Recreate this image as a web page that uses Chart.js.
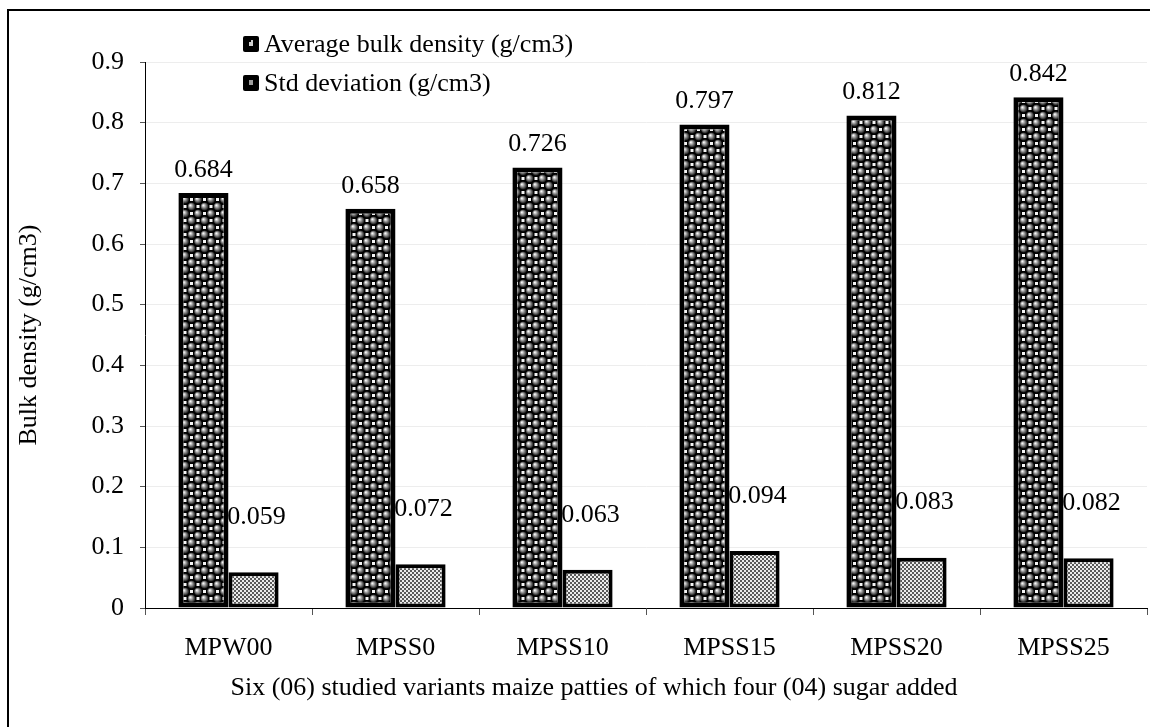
<!DOCTYPE html>
<html><head><meta charset="utf-8">
<script src="https://cdn.jsdelivr.net/npm/chart.js@4/dist/chart.umd.min.js"></script>
<style>html,body{margin:0;padding:0;background:#fff}#wrap{width:1150px;height:727px;position:relative}</style>
</head><body><div id="wrap"><canvas id="c" width="1150" height="727"></canvas></div>
<script>
// ---- data ----
const categories = ['MPW00', 'MPSS0', 'MPSS10', 'MPSS15', 'MPSS20', 'MPSS25'];
const avgDensity = [0.684, 0.658, 0.726, 0.797, 0.812, 0.842];
const stdDeviation = [0.059, 0.072, 0.063, 0.094, 0.083, 0.082];
const seriesNames = ['Average bulk density (g/cm3)', 'Std deviation (g/cm3)'];
const yTickValues = [0, 0.1, 0.2, 0.3, 0.4, 0.5, 0.6, 0.7, 0.8, 0.9];
const yTitle = 'Bulk density (g/cm3)';
const xTitle = 'Six (06) studied variants maize patties of which four (04) sugar added';

const FONT = '"Liberation Serif", "Times New Roman", serif';
const FS = 26;

// ---- patterns ----
function spherePattern() {
  const c = document.createElement('canvas');
  c.width = 13; c.height = 14;
  const g = c.getContext('2d');
  g.fillStyle = '#000'; g.fillRect(0, 0, 13, 14);
  const sphere = (x, y) => {
    const gr = g.createRadialGradient(x - 1.3, y - 1.3, 0.2, x, y, 4.2);
    gr.addColorStop(0, '#ffffff');
    gr.addColorStop(0.3, '#b8b8b8');
    gr.addColorStop(0.7, '#555555');
    gr.addColorStop(1, '#0a0a0a');
    g.fillStyle = gr;
    g.beginPath(); g.arc(x, y, 4.2, 0, Math.PI * 2); g.fill();
  };
  [[3, 3.5], [9.5, 10.5], [-3.5, 10.5], [16, 3.5], [3, 17.5], [9.5, -3.5], [-3.5, -3.5], [16, 17.5]].forEach(p => sphere(p[0], p[1]));
  g.fillStyle = '#f4f4f4';
  g.fillRect(8, 2, 3, 3);
  g.fillRect(1.5, 9, 3, 3);
  return g.createPattern(c, 'repeat');
}
function checkPattern() {
  const c = document.createElement('canvas');
  c.width = 4; c.height = 4;
  const g = c.getContext('2d');
  g.fillStyle = '#ececec'; g.fillRect(0, 0, 4, 4);
  g.fillStyle = '#5a5a5a';
  g.fillRect(0, 0, 2, 2); g.fillRect(2, 2, 2, 2);
  return g.createPattern(c, 'repeat');
}
const patAvg = spherePattern();
const patStd = checkPattern();

// ---- plugins ----
const frame = {
  id: 'frame',
  beforeDraw(chart) {
    const ctx = chart.ctx;
    ctx.save();
    ctx.fillStyle = '#fff';
    ctx.fillRect(0, 0, chart.width, chart.height);
    ctx.strokeStyle = '#000'; ctx.lineWidth = 2;
    ctx.beginPath();
    ctx.moveTo(8, chart.height + 5); ctx.lineTo(8, 10); ctx.lineTo(chart.width + 5, 10);
    ctx.stroke();
    ctx.restore();
  },
  afterDraw(chart) {
    const ctx = chart.ctx;
    ctx.save();
    ctx.fillStyle = '#000';
    ctx.font = FS + 'px ' + FONT;
    ctx.textAlign = 'center'; ctx.textBaseline = 'middle';
    ctx.fillText(xTitle, 594, 688);
    // legend
    const items = [[243, 44], [243, 83]];
    chart.data.datasets.forEach((ds, i) => {
      const [lx, ly] = items[i];
      ctx.fillStyle = '#000';
      ctx.beginPath();
      if (ctx.roundRect) ctx.roundRect(lx, ly - 8, 16, 16, 2); else ctx.rect(lx, ly - 8, 16, 16);
      ctx.fill();
      ctx.fillStyle = i === 0 ? '#d0d0d0' : '#a0a0a0';
      if (i === 0) { ctx.fillRect(lx + 6, ly - 2, 4, 4); ctx.fillRect(lx + 8, ly - 4, 2, 2); }
      else { ctx.fillRect(lx + 6, ly - 3, 4, 5); }
      ctx.fillStyle = '#000';
      ctx.textAlign = 'left';
      ctx.fillText(ds.label, lx + 21, ly + 1);
    });
    ctx.restore();
  }
};

const dataLabels = {
  id: 'dataLabels',
  afterDatasetsDraw(chart) {
    const ctx = chart.ctx;
    ctx.save();
    ctx.fillStyle = '#000';
    ctx.font = FS + 'px ' + FONT;
    ctx.textAlign = 'center'; ctx.textBaseline = 'middle';
    const offs = [[0, 23], [3, 55]];
    chart.data.datasets.forEach((ds, i) => {
      const meta = chart.getDatasetMeta(i);
      meta.data.forEach((el, j) => {
        ctx.fillText(ds.data[j].toFixed(3), el.x + offs[i][0], el.y - offs[i][1]);
      });
    });
    ctx.restore();
  }
};

new Chart(document.getElementById('c'), {
  type: 'bar',
  data: {
    labels: categories,
    datasets: [
      { label: seriesNames[0], data: avgDensity, backgroundColor: patAvg, borderColor: '#000', borderWidth: 5, borderSkipped: false },
      { label: seriesNames[1], data: stdDeviation, backgroundColor: patStd, borderColor: '#000', borderWidth: 4, borderSkipped: false }
    ]
  },
  options: {
    responsive: false,
    animation: false,
    devicePixelRatio: 1,
    layout: { padding: { top: 62, right: 3, left: 0, bottom: 0 } },
    datasets: { bar: { categoryPercentage: 0.6, barPercentage: 1.0 } },
    plugins: { legend: { display: false }, tooltip: { enabled: false } },
    scales: {
      x: {
        grid: { display: true, drawOnChartArea: false, offset: true, tickLength: 7, tickColor: '#555', lineWidth: 1 },
        border: { color: '#000', width: 1 },
        ticks: { color: '#000', font: { family: FONT, size: FS }, padding: 18, maxRotation: 0 },
        afterFit(s) { s.height = 119; }
      },
      y: {
        min: 0, max: 0.9,
        afterBuildTicks(s) { s.ticks = yTickValues.map(v => ({ value: v })); },
        grid: { color: '#ededed', tickColor: '#555', tickLength: 5, lineWidth: 1 },
        border: { color: '#000', width: 1 },
        ticks: {
          color: '#000', font: { family: FONT, size: FS }, padding: 16,
          callback: v => (v === 0 ? '0' : v.toFixed(1))
        },
        title: { display: true, text: yTitle, color: '#000', font: { family: FONT, size: FS }, padding: { top: 14, bottom: 0 } },
        afterFit(s) { s.width = 145; }
      }
    }
  },
  plugins: [frame, dataLabels]
});
</script>
</body></html>
